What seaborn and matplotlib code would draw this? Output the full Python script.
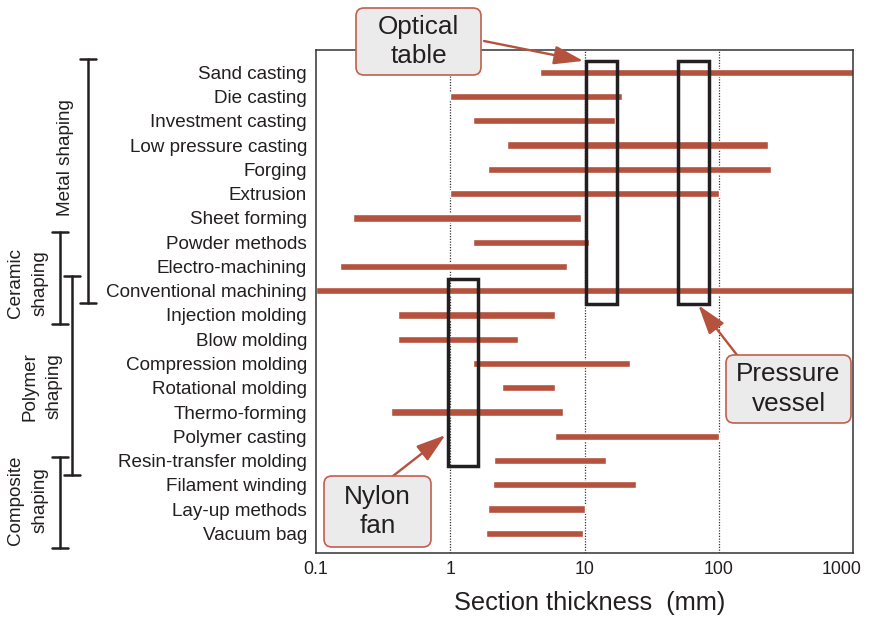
import matplotlib
matplotlib.use("Agg")
import matplotlib.pyplot as plt
import matplotlib.transforms as mtransforms
from matplotlib.patches import Rectangle, FancyBboxPatch
import seaborn as sns

# ---------------- data ----------------
processes = [
    "Sand casting", "Die casting", "Investment casting", "Low pressure casting",
    "Forging", "Extrusion", "Sheet forming", "Powder methods", "Electro-machining",
    "Conventional machining", "Injection molding", "Blow molding",
    "Compression molding", "Rotational molding", "Thermo-forming",
    "Polymer casting", "Resin-transfer molding", "Filament winding",
    "Lay-up methods", "Vacuum bag",
]
t_min = [4.7, 1.0, 1.47, 2.65, 1.92, 1.0, 0.19, 1.47, 0.15, 0.1,
         0.41, 0.41, 1.47, 2.44, 0.36, 6.0, 2.13, 2.07, 1.91, 1.86]
t_max = [1000, 19, 17, 232, 244, 100, 9.4, 10.8, 7.45, 1000,
         6.0, 3.2, 21.8, 6.0, 6.9, 100, 14.5, 24, 10, 9.7]

x_ticks = [0.1, 1, 10, 100, 1000]
x_tick_labels = ["0.1", "1", "10", "100", "1000"]
x_label = "Section thickness  (mm)"

# groups: label, first row edge, last row edge
group_labels = ["Metal shaping", "Ceramic\nshaping", "Polymer\nshaping", "Composite\nshaping"]
group_start = [-0.55, 6.59, 8.39, 15.86]
group_end = [9.52, 10.37, 16.59, 19.61]

# highlight boxes (x range in mm, y range in rows)
box_names = ["Optical\ntable", "Pressure\nvessel", "Nylon\nfan"]
box_xmin = [10.3, 49.7, 0.96]
box_xmax = [17.6, 84.9, 1.61]
box_ymin = [-0.47, -0.47, 8.52]
box_ymax = [9.54, 9.54, 16.24]
arrow_tip_x = [9.8, 70.5, 0.92]
arrow_tip_y = [-0.47, 9.6, 14.95]

# ---------------- style ----------------
sns.set_theme(style="white")
plt.rcParams["font.family"] = ["Liberation Sans", "DejaVu Sans"]

BAR = "#b4523e"
DARK = "#231f20"
W, H = 874, 618

fig = plt.figure(figsize=(W / 100, H / 100), dpi=100)
ax = fig.add_axes([316 / W, 1 - 553 / H, 537 / W, 503 / H])

# pixel transform (origin top-left)
pix = mtransforms.Affine2D().scale(1 / W, -1 / H).translate(0, 1) + fig.transFigure

ypos = list(range(len(processes)))
widths = [b - a for a, b in zip(t_min, t_max)]
ax.barh(ypos, widths, left=t_min, height=0.3, color=BAR, zorder=2)

ax.set_xscale("log")
ax.set_xlim(0.1, 1000)
ax.set_ylim(19.81, -0.92)

for xv in [1, 10, 100]:
    ax.axvline(xv, color="#333333", lw=0.9, ls=(0, (1, 1.2)), zorder=1)

ax.set_yticks(ypos)
ax.set_yticklabels(processes, fontsize=13.6, color=DARK)
ax.set_xticks(x_ticks)
ax.set_xticklabels(x_tick_labels, fontsize=12.8, color=DARK)
ax.xaxis.set_minor_locator(matplotlib.ticker.NullLocator())
ax.tick_params(axis="y", length=0, pad=6.5)
ax.tick_params(axis="x", length=0, pad=6)
lbl = ax.get_xticklabels()[-1]
lbl.set_transform(lbl.get_transform() + mtransforms.ScaledTranslation(-11 / 100, 0, fig.dpi_scale_trans))

ax.set_xlabel(x_label, fontsize=18.3, color=DARK, va="top")
ax.xaxis.set_label_coords(0.51, -0.076)

for s in ax.spines.values():
    s.set_color("#333333")
    s.set_linewidth(1.1)

# highlight rectangles
for x0, x1, y0, y1 in zip(box_xmin, box_xmax, box_ymin, box_ymax):
    ax.add_patch(Rectangle((x0, y0), x1 - x0, y1 - y0, fill=False,
                           ec=DARK, lw=2.5, zorder=4))

# callout boxes (pixel positions)
callouts = [  # x0, y0, x1, y1 of box, arrow start
    (356, 8, 481, 75, (484, 41)),
    (726, 355, 851, 423, (737, 355)),
    (324, 476, 431, 547, (393, 476)),
]
for name, (x0, y0, x1, y1, start), tx, ty in zip(box_names, callouts, arrow_tip_x, arrow_tip_y):
    patch = FancyBboxPatch((x0, y0), x1 - x0, y1 - y0,
                           boxstyle="round,pad=0,rounding_size=8",
                           fc="#ebebeb", ec="#c0604d", lw=1.2,
                           transform=pix, clip_on=False, zorder=6)
    fig.add_artist(patch)
    fig.text((x0 + x1) / 2 / W, 1 - (y0 + y1) / 2 / H, name, ha="center", va="center",
             fontsize=18.8, color=DARK, linespacing=1.3, zorder=7)
    ax.annotate("", xy=(tx, ty), xycoords="data", xytext=start, textcoords=pix,
                arrowprops=dict(arrowstyle="-|>,head_length=1.0,head_width=0.32",
                                mutation_scale=18, color=BAR, lw=1.7,
                                shrinkA=0, shrinkB=0),
                annotation_clip=False, zorder=8)

# group brackets
brk = mtransforms.blended_transform_factory(pix, ax.transData)
bx = [88, 60, 72, 60]
lab_x = [65, 28, 42, 28]
lab_y = [3.5, 8.67, 12.95, 17.65]
for name, ys, ye, x, lx, ly in zip(group_labels, group_start, group_end, bx, lab_x, lab_y):
    ax.plot([x, x], [ys, ye], color=DARK, lw=1.8, transform=brk, clip_on=False)
    for yy in (ys, ye):
        ax.plot([x - 8, x + 8], [yy, yy], color=DARK, lw=1.8, transform=brk, clip_on=False)
    ax.text(lx, ly, name, rotation=90, ha="center", va="center", fontsize=13.6,
            color=DARK, linespacing=1.55, transform=brk, clip_on=False)

fig.savefig("out.png", dpi=100)
